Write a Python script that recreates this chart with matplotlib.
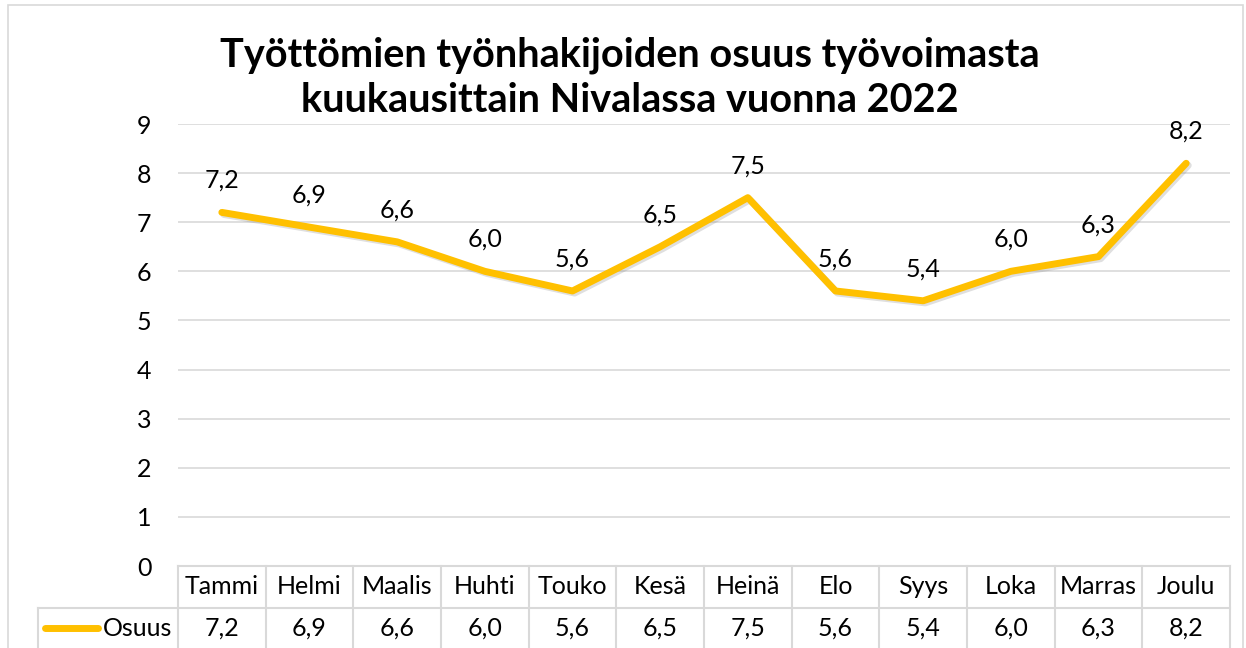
import matplotlib
matplotlib.use("Agg")
import matplotlib.pyplot as plt
import matplotlib.patheffects as pe
from matplotlib.patches import Rectangle
import numpy as np

plt.rcParams['font.family'] = ['Lato', 'DejaVu Sans']

months = ["Tammi", "Helmi", "Maalis", "Huhti", "Touko", "Kesä",
          "Heinä", "Elo", "Syys", "Loka", "Marras", "Joulu"]
osuus = [7.2, 6.9, 6.6, 6.0, 5.6, 6.5, 7.5, 5.6, 5.4, 6.0, 6.3, 8.2]
series_name = "Osuus"
title = "Työttömien työnhakijoiden osuus työvoimasta\nkuukausittain Nivalassa vuonna 2022"
y_ticks = list(range(0, 10))

LINE = "#FFC000"
GRID = "#D9D9D9"
W, H = 1246, 648
FS = 18


def fmt(v):
    return f"{v:.1f}".replace(".", ",")


fig = plt.figure(figsize=(W / 100, H / 100), dpi=100)
ax = fig.add_axes([178 / W, (H - 566) / H, (1230 - 178) / W, (566 - 124) / H])

x = np.arange(len(months))
ax.set_xlim(-0.5, len(months) - 0.5)
ax.set_ylim(0, 9)

for t in y_ticks[1:]:
    ax.axhline(t, color=GRID, lw=1.2, zorder=0)

ax.plot(x, osuus, color=LINE, lw=5.0, solid_capstyle="round", solid_joinstyle="round",
        zorder=3,
        path_effects=[pe.SimpleLineShadow(offset=(1.5, -1.5), alpha=0.25, shadow_color="gray"),
                      pe.Normal()])

for xi, v in zip(x, osuus):
    ax.annotate(fmt(v), (xi, v), xytext=(0, 23), textcoords="offset points",
                ha="center", va="center", fontsize=FS, color="#000000")

ax.set_yticks(y_ticks)
ax.set_yticklabels([str(t) for t in y_ticks], fontsize=FS)
ax.tick_params(axis="y", length=0, pad=19)
ax.set_xticks([])
for s in ax.spines.values():
    s.set_visible(False)

# data table below the plot
tr = ax.get_xaxis_transform()
row1 = -(608 - 566) / (566 - 124)
row2 = -(648 - 566) / (566 - 124)
legend_left = -0.5 - (178 - 38) / ((1230 - 178) / 12)
ax.plot([-0.5, 11.5], [0, 0], color=GRID, lw=1.5, transform=tr, clip_on=False)
ax.plot([legend_left, 11.5], [row1, row1], color=GRID, lw=1.5, transform=tr, clip_on=False)
for k in range(len(months) + 1):
    ax.plot([k - 0.5, k - 0.5], [0, row2], color=GRID, lw=1.5, transform=tr, clip_on=False)
ax.plot([legend_left, legend_left], [row1, row2], color=GRID, lw=1.5, transform=tr, clip_on=False)

for xi, m, v in zip(x, months, osuus):
    ax.text(xi, row1 / 2, m, transform=tr, ha="center", va="center", fontsize=FS)
    ax.text(xi, (row1 + row2) / 2, fmt(v), transform=tr, ha="center", va="center", fontsize=FS)

ym = (row1 + row2) / 2
ax.plot([legend_left + 0.08, legend_left + 0.68], [ym, ym], color=LINE, lw=5.0,
        solid_capstyle="round", transform=tr, clip_on=False)
ax.text(-0.56, ym, series_name, transform=tr, ha="right", va="center", fontsize=FS)

fig.text(630 / W, 1 - 78 / H, title, ha="center", va="center", fontsize=28.5,
         fontweight="bold", linespacing=1.25)

fig.patches.append(Rectangle((8 / W, -0.01), (1243 - 8) / W, 1 - 5 / H + 0.01,
                             transform=fig.transFigure, fill=False,
                             edgecolor=GRID, lw=1.2))

fig.savefig("out.png", dpi=100)
